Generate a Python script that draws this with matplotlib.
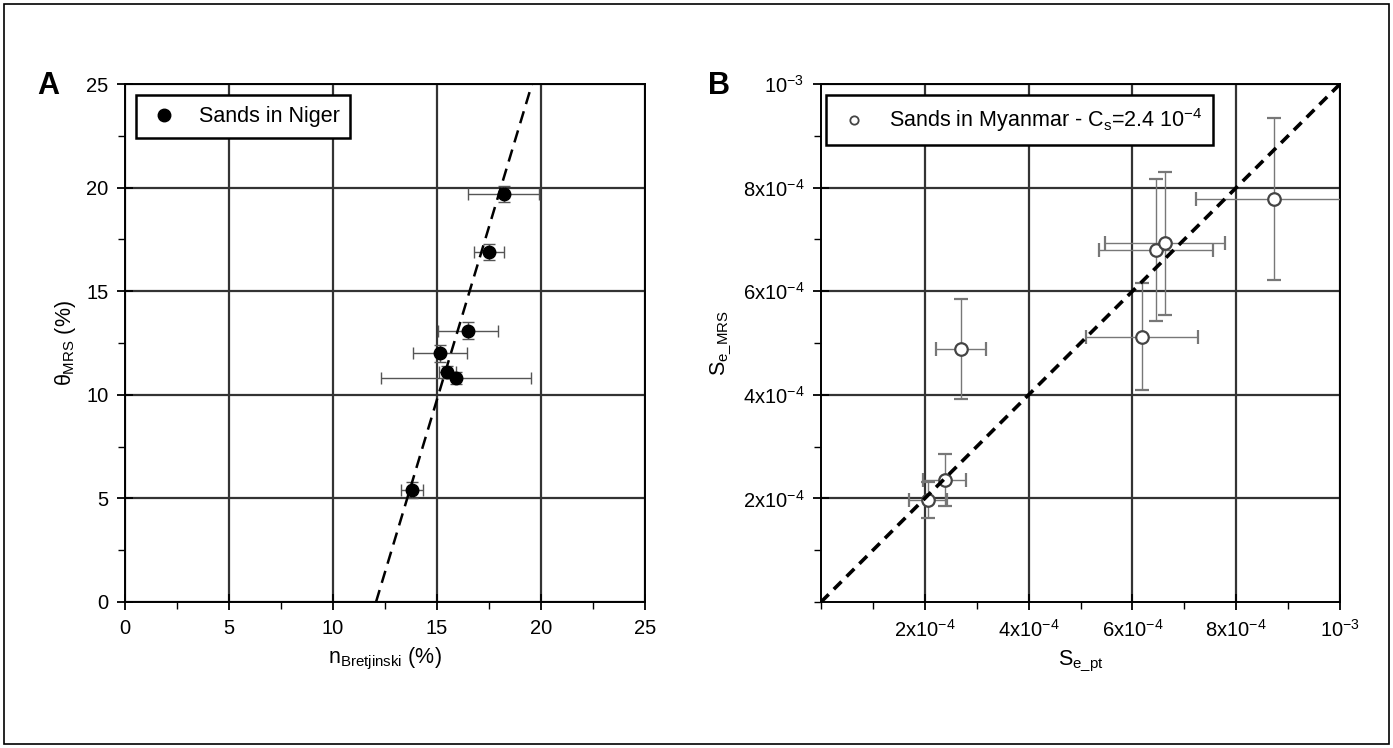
import matplotlib.pyplot as plt
import matplotlib.patches as mpatches
from matplotlib.ticker import MultipleLocator

plt.rcParams['font.family'] = ['Liberation Sans', 'DejaVu Sans']
plt.rcParams['mathtext.fontset'] = 'custom'
plt.rcParams['mathtext.rm'] = 'Liberation Sans'
plt.rcParams['mathtext.it'] = 'Liberation Sans'

# panel A - sands in Niger
niger_n = [13.8, 15.15, 15.5, 15.9, 16.5, 17.5, 18.2]
niger_theta = [5.4, 12.0, 11.1, 10.8, 13.1, 16.9, 19.7]
niger_n_err = [0.55, 1.3, 0.4, 3.6, 1.45, 0.7, 1.7]
niger_theta_err = [0.4, 0.4, 0.3, 0.3, 0.4, 0.4, 0.4]
fit_intercept = 12.07   # n at theta = 0
fit_slope = 0.30        # dn / dtheta

# panel B - sands in Myanmar
se_pt = [2.06e-4, 2.38e-4, 2.69e-4, 6.19e-4, 6.46e-4, 6.63e-4, 8.73e-4]
se_mrs = [1.97e-4, 2.35e-4, 4.88e-4, 5.12e-4, 6.80e-4, 6.93e-4, 7.78e-4]
se_pt_err = [0.37e-4, 0.42e-4, 0.48e-4, 1.08e-4, 1.10e-4, 1.15e-4, 1.50e-4]
se_mrs_err = [0.35e-4, 0.50e-4, 0.97e-4, 1.03e-4, 1.37e-4, 1.38e-4, 1.57e-4]

b_ticks = [2e-4, 4e-4, 6e-4, 8e-4, 1e-3]
b_labels = [r"2x10$^{-4}$", r"4x10$^{-4}$", r"6x10$^{-4}$", r"8x10$^{-4}$", r"10$^{-3}$"]

fig = plt.figure(figsize=(13.93, 7.48), dpi=100)
fig.patches.append(mpatches.Rectangle((0.003, 0.005), 0.994, 0.99, transform=fig.transFigure,
                                      fill=False, edgecolor="black", linewidth=1.2))

axA = fig.add_axes([0.0897, 0.1952, 0.3733, 0.6925])
axB = fig.add_axes([0.5894, 0.1952, 0.3726, 0.6925])


def style_axes(ax):
    ax.grid(True, which="major", color="#333333", linewidth=1.6)
    ax.set_axisbelow(True)
    for s in ax.spines.values():
        s.set_linewidth(1.4)
    ax.tick_params(which="major", direction="inout", length=12, width=1.3, labelsize=14.5, pad=6)
    ax.tick_params(which="minor", direction="out", length=5, width=1.0)


def boxed_legend(ax, x0):
    leg = ax.legend(loc="upper left", fontsize=15.5, frameon=True, fancybox=False,
                    edgecolor="black", borderpad=0.5, handletextpad=0.8, handlelength=1.6,
                    borderaxespad=0, bbox_to_anchor=(x0, 0.978))
    leg.get_frame().set_linewidth(1.8)
    leg.get_frame().set_alpha(1)
    return leg


# ---- A ----
axA.errorbar(niger_n, niger_theta, xerr=niger_n_err, yerr=niger_theta_err, fmt="o",
             color="black", ms=9, ecolor="#555555", elinewidth=1.0, capsize=4, zorder=3)
axA.plot([], [], "o", color="black", ms=9, label="Sands in Niger")
theta_line = [0, 25]
axA.plot([fit_intercept + fit_slope * t for t in theta_line], theta_line, "k--",
         linewidth=1.8, dashes=(5, 3), zorder=4)
axA.set_xlim(0, 25)
axA.set_ylim(0, 25)
axA.set_xticks([0, 5, 10, 15, 20, 25])
axA.set_yticks([0, 5, 10, 15, 20, 25])
axA.xaxis.set_minor_locator(MultipleLocator(2.5))
axA.yaxis.set_minor_locator(MultipleLocator(2.5))
style_axes(axA)
axA.set_xlabel(r"n$_{Bretjinski}$ (%)", fontsize=15.5, labelpad=6)
axA.set_ylabel(r"$\theta_{MRS}$ (%)", fontsize=15.5, labelpad=6)
boxed_legend(axA, 0.022)
fig.text(0.027, 0.875, "A", fontsize=22, fontweight="bold")

# ---- B ----
axB.errorbar(se_pt, se_mrs, xerr=se_pt_err, yerr=se_mrs_err, fmt="o",
             color="#444444", mfc="white", mec="#444444", mew=1.6, ms=9,
             ecolor="#777777", elinewidth=1.0, capsize=5, zorder=3)
axB.plot([], [], "o", mfc="white", mec="#444444", mew=1.3, ms=6,
         label=r"Sands in Myanmar - C$_s$=2.4 10$^{-4}$")
axB.plot([0, 1e-3], [0, 1e-3], "k--", linewidth=2.6, dashes=(3, 2), zorder=4)
axB.set_xlim(0, 1e-3)
axB.set_ylim(0, 1e-3)
axB.set_xticks(b_ticks)
axB.set_xticklabels(b_labels)
axB.set_yticks(b_ticks)
axB.set_yticklabels(b_labels)
axB.xaxis.set_minor_locator(MultipleLocator(1e-4))
axB.yaxis.set_minor_locator(MultipleLocator(1e-4))
style_axes(axB)
axB.set_xlabel(r"S$_{e\_pt}$", fontsize=15.5, labelpad=6)
axB.set_ylabel(r"S$_{e\_MRS}$", fontsize=15.5, labelpad=6)
boxed_legend(axB, 0.01)
fig.text(0.508, 0.875, "B", fontsize=22, fontweight="bold")

fig.savefig("out.png", dpi=100)
